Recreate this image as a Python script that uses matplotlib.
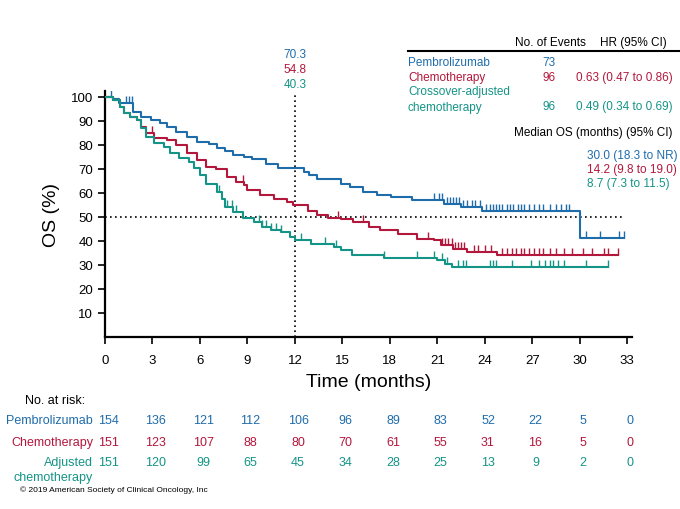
import numpy as np
import matplotlib
matplotlib.use("Agg")
import matplotlib.pyplot as plt
from matplotlib.lines import Line2D
from matplotlib.transforms import blended_transform_factory

W, H = 680, 510

BLUE = "#1f6cab"
RED = "#b3173c"
TEAL = "#149487"

plt.rcParams["font.family"] = ["Liberation Sans", "DejaVu Sans"]

# KM step data (month, OS %)
pem_t = [0, 0.5, 0.9, 1.8, 2.3, 2.9, 3.5, 3.9, 4.5, 5.2, 5.8, 6.6, 7.1, 7.6, 8.1, 8.8, 9.3,
         10.2, 10.9, 12.6, 12.9, 13.4, 14.9, 15.5, 16.3, 17.2, 18.1, 19.4, 21.4, 22.5, 23.8, 30.0, 32.8]
pem_s = [100, 99.0, 97.6, 93.8, 91.8, 90.4, 89.0, 87.6, 85.5, 83.5, 81.4, 80.5, 78.6, 77.5, 76.0, 75.0, 74.3,
         72.2, 70.3, 68.8, 67.3, 66.0, 63.9, 62.5, 60.4, 59.3, 58.3, 56.9, 55.5, 54.2, 52.3, 41.2, 41.2]
pem_cens = [0.4, 1.3, 1.5, 1.7, 20.8, 21.1, 21.3, 21.6, 21.8, 22.0, 22.2, 22.4, 22.6, 22.9, 23.2,
            23.4, 23.7, 24.1, 24.3, 24.5, 24.7, 24.9, 25.1, 25.4, 25.6, 25.8, 26.1, 26.3, 26.5,
            26.8, 27.1, 27.4, 27.7, 28.1, 28.5, 28.8, 29.1, 29.3, 30.4, 31.3, 32.5, 32.8]

chemo_t = [0, 0.5, 0.95, 1.2, 1.6, 2.0, 2.3, 2.6, 3.1, 3.9, 4.5, 5.2, 5.8, 6.4, 7.0, 7.7, 8.3, 8.8,
           9.0, 9.8, 10.7, 11.5, 11.9, 12.8, 13.4, 14.1, 14.9, 15.7, 16.7, 17.4, 18.5, 19.7, 20.8,
           21.2, 22.0, 22.9, 24.8, 32.4]
chemo_s = [100, 98.7, 96.0, 93.2, 91.8, 90.4, 87.6, 84.8, 82.8, 82.0, 80.0, 76.5, 73.8, 71.0, 70.0,
           66.8, 64.5, 63.2, 61.1, 59.0, 57.6, 56.2, 54.8, 52.7, 51.0, 49.7, 49.3, 47.9, 45.8, 44.4,
           43.0, 41.0, 40.3, 38.2, 36.8, 35.4, 34.3, 34.3]
chemo_cens = [3.0, 8.7, 14.7, 16.3, 20.4, 21.3, 21.5, 21.7, 21.9, 22.1, 22.3, 22.5, 22.7, 23.3, 23.6,
              24.0, 24.4, 25.1, 25.4, 25.7, 26.0, 26.3, 26.5, 26.8, 27.1, 27.4, 27.7, 28.1, 28.5,
              29.0, 29.5, 30.2, 30.8, 31.5, 31.8, 32.4]

adj_t = [0, 0.5, 0.95, 1.2, 1.6, 2.0, 2.3, 2.6, 3.1, 3.7, 4.1, 4.7, 5.3, 5.6, 6.0, 6.4, 7.1, 7.4,
         7.6, 8.1, 8.7, 9.4, 9.9, 10.5, 11.1, 11.7, 12.0, 13.0, 14.5, 14.9, 15.6, 17.6, 21.0, 21.5,
         21.9, 31.8]
adj_s = [100, 98.7, 96.0, 93.2, 91.8, 90.4, 87.0, 83.5, 80.7, 79.3, 76.5, 74.4, 73.0, 70.5, 67.5,
         63.9, 60.4, 57.5, 54.2, 52.1, 49.5, 47.9, 45.8, 44.4, 43.7, 41.7, 40.3, 38.9, 37.5, 36.1,
         34.0, 33.0, 31.9, 30.5, 29.2, 29.2]
adj_cens = [7.2, 7.7, 8.0, 8.3, 9.7, 9.9, 10.2, 10.5, 10.8, 11.1, 12.4, 13.9, 14.6, 17.6, 19.7,
            20.8, 21.3, 21.6, 22.3, 22.6, 22.8, 24.3, 24.5, 24.7, 25.7, 26.9, 27.4, 27.8, 28.1,
            28.3, 28.6, 29.0, 30.4, 31.8]

risk_months = [0, 3, 6, 9, 12, 15, 18, 21, 24, 27, 30, 33]
risk_pem = [154, 136, 121, 112, 106, 96, 89, 83, 52, 22, 5, 0]
risk_chemo = [151, 123, 107, 88, 80, 70, 61, 55, 31, 16, 5, 0]
risk_adj = [151, 120, 99, 65, 45, 34, 28, 25, 13, 9, 2, 0]

landmark = 12
landmark_vals = ["70.3", "54.8", "40.3"]


def fx(px):
    return px / W


def fy(py):
    return 1 - py / H


fig = plt.figure(figsize=(6.8, 5.1), dpi=100)
ax = fig.add_axes([fx(105), fy(338), 527 / W, 246 / H])
ax.set_xlim(0, 33.3)
ax.set_ylim(0, 102.5)

for t, s, cens, c in [(pem_t, pem_s, pem_cens, BLUE),
                      (chemo_t, chemo_s, chemo_cens, RED),
                      (adj_t, adj_s, adj_cens, TEAL)]:
    ax.step(t, s, where="post", color=c, lw=1.5, zorder=3)
    idx = np.searchsorted(t, cens, side="right") - 1
    ax.plot(cens, np.array(s)[idx], ls="none", marker=2, ms=5, mew=1.0, color=c, zorder=3)

# reference lines
ax.plot([0, 32.8], [50, 50], ls=(0, (1, 2)), color="black", lw=1.2, zorder=2)
ax.plot([landmark, landmark], [0, 101], ls=(0, (1, 2)), color="black", lw=1.2, zorder=2,
        clip_on=False)

ax.spines["top"].set_visible(False)
ax.spines["right"].set_visible(False)
for sp in ["left", "bottom"]:
    ax.spines[sp].set_linewidth(1.6)
ax.set_xticks(risk_months)
ax.set_yticks(range(10, 101, 10))
ax.tick_params(direction="out", length=5, width=1.2, labelsize=9.5)
ax.tick_params(axis="x", pad=7)
ax.set_xlabel("Time (months)", fontsize=14, labelpad=5)
ax.set_ylabel("OS (%)", fontsize=14, labelpad=8)

# landmark values
for val, c, py in zip(landmark_vals, [BLUE, RED, TEAL], [55, 70, 85]):
    fig.text(fx(295), fy(py), val, color=c, fontsize=8.5, ha="center", va="center")

# events / HR table
fig.text(fx(550), fy(43), "No. of Events", fontsize=8.5, ha="center", va="center")
fig.text(fx(633), fy(43), "HR (95% CI)", fontsize=8.5, ha="center", va="center")
fig.add_artist(Line2D([fx(408), 1.0], [fy(52), fy(52)], color="black", lw=1.5))
rows = [("Pembrolizumab", "73", "", BLUE, 63, 63),
        ("Chemotherapy", "96", "0.63 (0.47 to 0.86)", RED, 78, 78),
        ("Crossover-adjusted\nchemotherapy", "96", "0.49 (0.34 to 0.69)", TEAL, 100, 107)]
for name, ev, hr, c, py, py2 in rows:
    fig.text(fx(408), fy(py), name, color=c, fontsize=8.5, ha="left", va="center", linespacing=1.35)
    fig.text(fx(549), fy(py2), ev, color=c, fontsize=8.5, ha="center", va="center")
    fig.text(fx(673), fy(py2), hr, color=c, fontsize=8.5, ha="right", va="center")

fig.text(fx(673), fy(133), "Median OS (months) (95% CI)", fontsize=8.5, ha="right", va="center")
for txt, c, py in [("30.0 (18.3 to NR)", BLUE, 156),
                   ("14.2 (9.8 to 19.0)", RED, 170),
                   ("8.7 (7.3 to 11.5)", TEAL, 184)]:
    fig.text(fx(587), fy(py), txt, color=c, fontsize=8.5, ha="left", va="center")

# number at risk
tr = blended_transform_factory(ax.transData, fig.transFigure)
fig.text(fx(85), fy(401), "No. at risk:", fontsize=9, ha="right", va="center")
risk_rows = [("Pembrolizumab", risk_pem, BLUE, 421),
             ("Chemotherapy", risk_chemo, RED, 443),
             ("Adjusted\nchemotherapy", risk_adj, TEAL, 463)]
for name, vals, c, py in risk_rows:
    lines = name.split("\n")
    for k, line in enumerate(lines):
        fig.text(fx(93), fy(py + 15 * k), line, color=c, fontsize=9, ha="right", va="center")
    for m, v in zip(risk_months, vals):
        ax.text(m + 0.2, fy(py), str(v), transform=tr, color=c, fontsize=9, ha="center",
                va="center")

fig.text(fx(20), fy(490), "\u00a9 2019 American Society of Clinical Oncology, Inc", fontsize=6,
         ha="left", va="center")

fig.savefig("out.png", dpi=100)
